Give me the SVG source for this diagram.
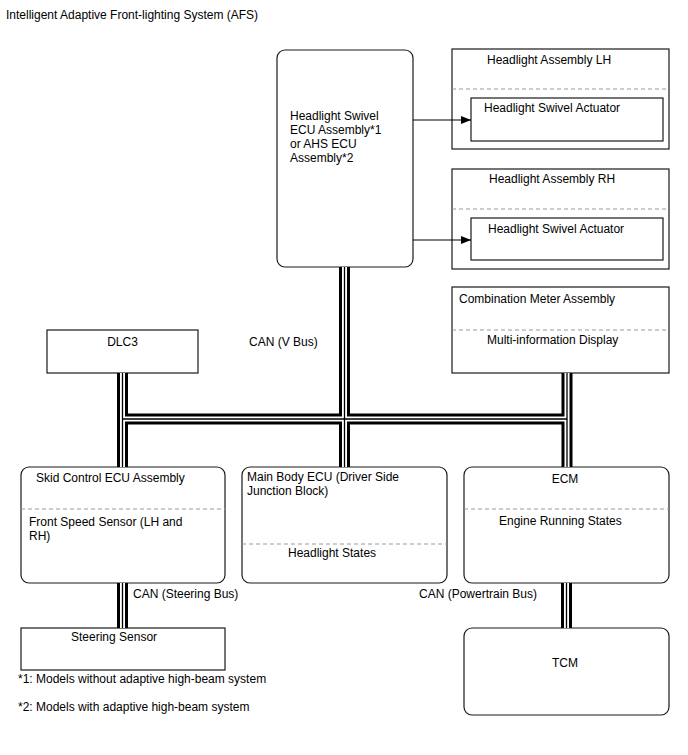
<svg xmlns="http://www.w3.org/2000/svg" xmlns:xlink="http://www.w3.org/1999/xlink" width="688" height="755" viewBox="0 0 688 755">
<style>
text{font-family:"Liberation Sans",Arial,sans-serif;font-size:12px;fill:#000}
.box{fill:#fff;stroke:#1a1a1a;stroke-width:1.2}
.dash{stroke:#999;stroke-width:1.2;stroke-dasharray:4 3;fill:none}
.b1{fill:none;stroke:#000;stroke-width:11}
.b2{fill:none;stroke:#fff;stroke-width:5}
.b3{fill:none;stroke:#000;stroke-width:1.3}
.arr{stroke:#000;stroke-width:1;fill:none}
</style>
<defs>
<marker id="ah" viewBox="0 0 10 8" refX="10" refY="4" markerWidth="10" markerHeight="8" markerUnits="userSpaceOnUse" orient="auto">
<path d="M0,0 L10,4 L0,8 z" fill="#000"/>
</marker>
<path id="bus" d="M344.5,267 V467 M122.5,419 H567 M122.5,373 V467 M567,373 V467 M122.5,583 V628 M566.5,583 V628"/>
</defs>
<text x="6" y="19">Intelligent Adaptive Front-lighting System (AFS)</text>
<g id="hsecu">
<rect class="box" x="277" y="50" width="136" height="217" rx="8"/>
<text x="290" y="120">Headlight Swivel</text>
<text x="290" y="134">ECU Assembly*1</text>
<text x="290" y="148">or AHS ECU</text>
<text x="290" y="162">Assembly*2</text>
</g>
<g id="hlh">
<rect class="box" x="452" y="49" width="217" height="100"/>
<text x="487" y="64">Headlight Assembly LH</text>
<line class="dash" x1="452" y1="89" x2="669" y2="89"/>
<rect class="box" x="471" y="98" width="192" height="43"/>
<text x="484" y="112">Headlight Swivel Actuator</text>
</g>
<g id="hrh">
<rect class="box" x="452" y="169" width="217" height="100"/>
<text x="489" y="183">Headlight Assembly RH</text>
<line class="dash" x1="452" y1="209" x2="669" y2="209"/>
<rect class="box" x="471" y="218" width="192" height="42"/>
<text x="488" y="233">Headlight Swivel Actuator</text>
</g>
<g id="combo">
<rect class="box" x="452" y="287" width="217" height="86"/>
<text x="459" y="303">Combination Meter Assembly</text>
<line class="dash" x1="452" y1="330" x2="669" y2="330"/>
<text x="487" y="344">Multi-information Display</text>
</g>
<g id="dlc3">
<rect class="box" x="47" y="330" width="151" height="43"/>
<text x="122.5" y="346" text-anchor="middle">DLC3</text>
</g>
<g id="skid">
<rect class="box" x="21" y="467" width="204" height="116" rx="8"/>
<text x="36" y="482">Skid Control ECU Assembly</text>
<line class="dash" x1="21" y1="509" x2="225" y2="509"/>
<text x="29" y="526">Front Speed Sensor (LH and</text>
<text x="29" y="540">RH)</text>
</g>
<g id="mainbody">
<rect class="box" x="242" y="467" width="205" height="116" rx="8"/>
<text x="247" y="481">Main Body ECU (Driver Side</text>
<text x="247" y="495">Junction Block)</text>
<line class="dash" x1="242" y1="544" x2="447" y2="544"/>
<text x="288" y="557">Headlight States</text>
</g>
<g id="ecm">
<rect class="box" x="464" y="467" width="205" height="116" rx="8"/>
<text x="565" y="483" text-anchor="middle">ECM</text>
<line class="dash" x1="464" y1="509" x2="669" y2="509"/>
<text x="499" y="525">Engine Running States</text>
</g>
<g id="steering">
<rect class="box" x="21" y="628" width="204" height="42"/>
<text x="71" y="641">Steering Sensor</text>
</g>
<g id="tcm">
<rect class="box" x="464" y="628" width="205" height="87" rx="8"/>
<text x="565" y="667" text-anchor="middle">TCM</text>
</g>
<g id="notes">
<text x="18" y="683">*1: Models without adaptive high-beam system</text>
<text x="18" y="711">*2: Models with adaptive high-beam system</text>
</g>
<g id="connectors">
<use xlink:href="#bus" class="b1"/>
<use xlink:href="#bus" class="b2"/>
<use xlink:href="#bus" class="b3"/>
<line class="arr" x1="413" y1="120" x2="471" y2="120" marker-end="url(#ah)"/>
<line class="arr" x1="413" y1="240" x2="471" y2="240" marker-end="url(#ah)"/>
<text x="249" y="346">CAN (V Bus)</text>
<text x="133" y="598">CAN (Steering Bus)</text>
<text x="419" y="598">CAN (Powertrain Bus)</text>
</g>
</svg>
